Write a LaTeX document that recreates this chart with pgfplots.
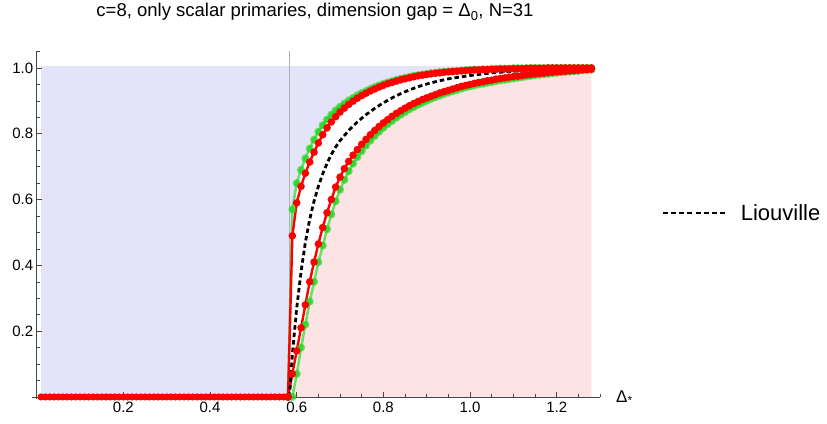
\documentclass[border=0pt]{standalone}
\usepackage{pgfplots}
\pgfplotsset{compat=1.18}
\usepackage{pgfplotstable}
\usepackage{fontspec}
\setmainfont{Liberation Sans}
\definecolor{bluefill}{RGB}{228,228,248}
\definecolor{pinkfill}{RGB}{252,228,228}
\definecolor{mgreen}{RGB}{30,215,30}
\definecolor{axgray}{RGB}{70,70,70}

\pgfplotstableread[row sep=\\]{
x y\\ 0.01 0\\ 0.02 0\\ 0.03 0\\ 0.04 0\\ 0.05 0\\ 0.06 0\\ 0.07 0\\ 0.08 0\\ 0.09 0\\ 0.10 0\\
0.11 0\\ 0.12 0\\ 0.13 0\\ 0.14 0\\ 0.15 0\\ 0.16 0\\ 0.17 0\\ 0.18 0\\ 0.19 0\\ 0.20 0\\
0.21 0\\ 0.22 0\\ 0.23 0\\ 0.24 0\\ 0.25 0\\ 0.26 0\\ 0.27 0\\ 0.28 0\\ 0.29 0\\ 0.30 0\\
0.31 0\\ 0.32 0\\ 0.33 0\\ 0.34 0\\ 0.35 0\\ 0.36 0\\ 0.37 0\\ 0.38 0\\ 0.39 0\\ 0.40 0\\
0.41 0\\ 0.42 0\\ 0.43 0\\ 0.44 0\\ 0.45 0\\ 0.46 0\\ 0.47 0\\ 0.48 0\\ 0.49 0\\ 0.50 0\\
0.51 0\\ 0.52 0\\ 0.53 0\\ 0.54 0\\ 0.55 0\\ 0.56 0\\ 0.57 0\\ 0.58 0\\
}\flat

\pgfplotstableread{
x U L GU GL
0.58 0 0 0 0
0.59 0.490 0.070 0.570 0.000
0.60 0.590 0.140 0.650 0.070
0.61 0.640 0.210 0.690 0.150
0.62 0.680 0.280 0.725 0.220
0.63 0.714 0.350 0.755 0.290
0.64 0.744 0.410 0.782 0.350
0.65 0.772 0.465 0.806 0.410
0.66 0.797 0.515 0.826 0.460
0.67 0.818 0.560 0.843 0.510
0.68 0.836 0.600 0.858 0.555
0.69 0.852 0.638 0.871 0.595
0.70 0.866 0.668 0.882 0.630
0.71 0.878 0.694 0.892 0.660
0.72 0.889 0.716 0.901 0.686
0.73 0.899 0.735 0.909 0.709
0.74 0.908 0.752 0.917 0.729
0.75 0.916 0.768 0.924 0.747
0.76 0.923 0.783 0.930 0.764
0.77 0.930 0.797 0.936 0.779
0.78 0.936 0.810 0.942 0.793
0.79 0.942 0.822 0.947 0.806
0.80 0.947 0.833 0.952 0.818
0.81 0.952 0.843 0.956 0.829
0.82 0.956 0.853 0.960 0.839
0.83 0.960 0.862 0.964 0.849
0.84 0.964 0.870 0.967 0.858
0.85 0.967 0.878 0.970 0.866
0.86 0.970 0.885 0.973 0.874
0.87 0.973 0.892 0.976 0.881
0.88 0.976 0.898 0.978 0.888
0.89 0.978 0.904 0.980 0.894
0.90 0.980 0.909 0.982 0.900
0.91 0.982 0.914 0.984 0.906
0.92 0.984 0.919 0.985 0.911
0.93 0.985 0.924 0.987 0.916
0.94 0.987 0.928 0.988 0.921
0.95 0.988 0.932 0.989 0.925
0.96 0.989 0.936 0.990 0.929
0.97 0.990 0.940 0.991 0.933
0.98 0.991 0.944 0.992 0.937
0.99 0.992 0.947 0.993 0.941
1.00 0.993 0.950 0.994 0.944
1.01 0.994 0.953 0.995 0.947
1.02 0.994 0.956 0.995 0.950
1.03 0.995 0.958 0.996 0.952
1.04 0.995 0.961 0.996 0.955
1.05 0.996 0.963 0.997 0.957
1.06 0.996 0.966 0.997 0.960
1.07 0.997 0.968 0.998 0.962
1.08 0.997 0.970 0.998 0.964
1.09 0.997 0.972 0.998 0.966
1.10 0.998 0.974 0.999 0.968
1.11 0.998 0.975 0.999 0.970
1.12 0.998 0.977 0.999 0.972
1.13 0.999 0.979 0.999 0.974
1.14 0.999 0.980 1.000 0.976
1.15 0.999 0.982 1.000 0.978
1.16 0.999 0.983 1.000 0.979
1.17 0.999 0.984 1.000 0.981
1.18 1.000 0.986 1.000 0.982
1.19 1.000 0.987 1.000 0.984
1.20 1.000 0.988 1.000 0.985
1.21 1.000 0.989 1.000 0.987
1.22 1.000 0.990 1.000 0.988
1.23 1.000 0.991 1.000 0.989
1.24 1.000 0.992 1.000 0.990
1.25 1.000 0.993 1.000 0.991
1.26 1.000 0.994 1.000 0.993
1.27 1.000 0.995 1.000 0.994
1.28 1.000 0.996 1.000 0.995
}\curves

\pgfplotstableread{
x D
0.5833 0
0.59 0.13
0.60 0.27
0.61 0.38
0.62 0.47
0.63 0.54
0.64 0.595
0.65 0.64
0.66 0.678
0.67 0.71
0.68 0.737
0.69 0.76
0.70 0.779
0.72 0.81
0.74 0.836
0.76 0.858
0.78 0.877
0.80 0.894
0.82 0.909
0.84 0.922
0.86 0.933
0.88 0.943
0.90 0.951
0.92 0.958
0.95 0.967
1.00 0.977
1.05 0.985
1.10 0.990
1.15 0.994
1.20 0.997
1.28 0.999
}\liou

\begin{document}
\begin{tikzpicture}
\useasboundingbox (0,0) rectangle (827pt,423pt);
\begin{axis}[
  at={(32.4pt,24.4pt)}, anchor=south west,
  scale only axis, width=567.6pt, height=347.1pt,
  xmin=-0.01, xmax=1.30, ymin=-0.005, ymax=1.05,
  axis lines=middle,
  axis line style={-, axgray, line width=0.6pt},
  axis on top, clip=false,
  xtick={0.2,0.4,0.6,0.8,1.0,1.2},
  ytick={0.2,0.4,0.6,0.8,1.0},
  minor xtick={0.05,0.1,0.15,0.25,0.3,0.35,0.45,0.5,0.55,0.65,0.7,0.75,0.85,0.9,0.95,1.05,1.1,1.15,1.25,1.3},
  minor ytick={0.05,0.1,0.15,0.25,0.3,0.35,0.45,0.5,0.55,0.65,0.7,0.75,0.85,0.9,0.95,1.05},
  tick align=inside,
  major tick length=5pt, minor tick length=3pt,
  every tick/.style={axgray, line width=0.5pt},
  tick label style={font=\fontsize{15}{15}\selectfont, text=black},
  xticklabel style={yshift=-2pt},
  legend style={at={(1.1087,0.5347)}, anchor=west, draw=none, fill=none,
    inner sep=0pt, font=\fontsize{22}{22}\selectfont},
  legend image code/.code={\path[draw=none] (0pt,0pt) -- (76pt,0pt);\draw[black, line width=1.9pt, dash pattern=on 5pt off 3.2pt] (0pt,0pt) -- (65pt,0pt);},
  /pgf/number format/fixed, /pgf/number format/fixed zerofill,
  /pgf/number format/precision=1, /pgf/number format/assume math mode=true,
]
% shaded regions
\addplot[draw=none, fill=bluefill, forget plot] coordinates {(0.01,1.006) (1.28,1.006)} \closedcycle;
\addplot[draw=none, fill=white, forget plot] table[x=x, y=GU] {\curves} \closedcycle;
\addplot[draw=none, fill=pinkfill, forget plot] table[x=x, y=GL] {\curves} \closedcycle;
% vertical line at (c-1)/12
\addplot[black!30, line width=0.7pt, forget plot] coordinates {(0.5833,0) (0.5833,1.05)};
% green bounds
\addplot[mgreen, opacity=0.65, line width=2.6pt, mark=*, mark size=2.7pt, forget plot] table[x=x, y=GU] {\curves};
\addplot[mgreen, opacity=0.65, line width=2.6pt, mark=*, mark size=2.7pt, forget plot] table[x=x, y=GL] {\curves};
% red bounds
\addplot[red, line width=2.4pt, mark=*, mark size=2.3pt, forget plot] table[x=x, y=y] {\flat};
\addplot[red, line width=2.4pt, mark=*, mark size=2.5pt, forget plot] table[x=x, y=U] {\curves};
\addplot[red, line width=2.4pt, mark=*, mark size=2.5pt, forget plot] table[x=x, y=L] {\curves};
% Liouville
\addplot[black, line width=2.8pt, dash pattern=on 4.5pt off 3pt] table[x=x, y=D] {\liou};
\addlegendentry{Liouville}
\end{axis}
\node[anchor=base, font=\fontsize{18.5}{18.5}\selectfont] at (315pt,406pt) {c=8, only scalar primaries, dimension gap = Δ\textsubscript{0}, N=31};
\node[anchor=base west, font=\fontsize{17}{17}\selectfont, inner sep=0pt] at (616pt,21pt) {Δ\textsubscript{*}};
\end{tikzpicture}
\end{document}
